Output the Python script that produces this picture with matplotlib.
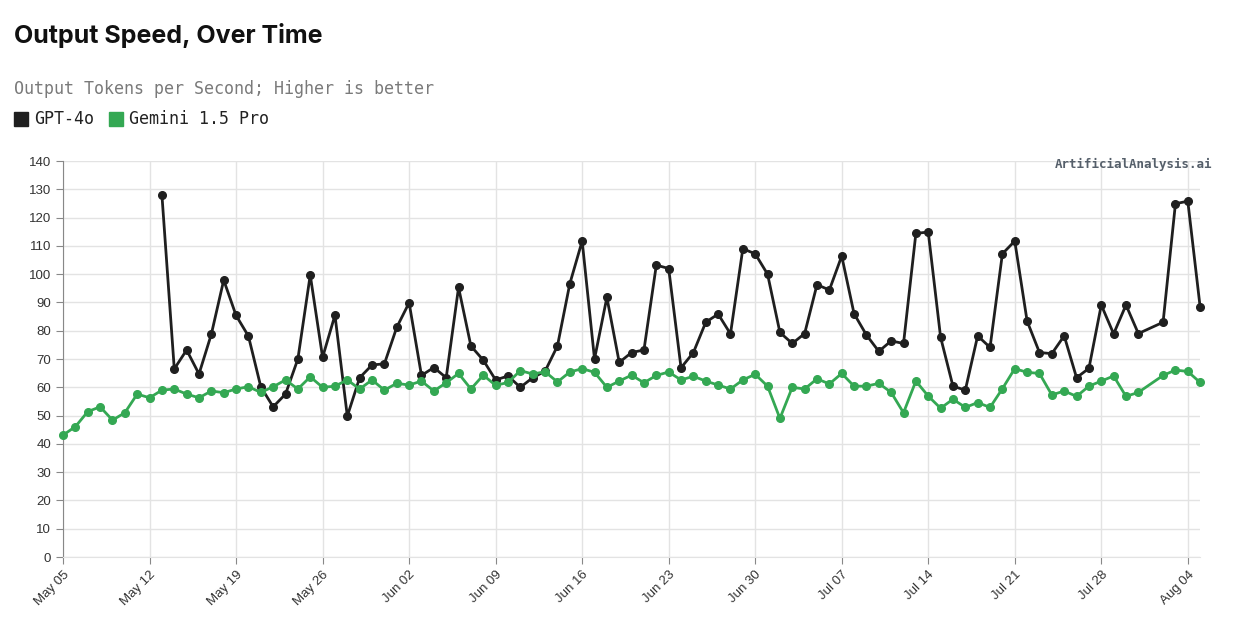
import matplotlib
matplotlib.use("Agg")
import matplotlib.pyplot as plt
import matplotlib.dates as mdates
from matplotlib.patches import Rectangle
import pandas as pd
import numpy as np

# daily values, Aug 01 missing in the source data
green_start, black_start = "2024-05-05", "2024-05-13"
skip_day = "2024-08-01"
end_day = "2024-08-05"

gemini = [43.1, 46.1, 51.4, 53.1, 48.4, 51.0, 57.6, 56.3, 59.0, 59.4, 57.6, 56.3, 58.7, 58.1,
          59.4, 60.2, 58.2, 60.2, 62.6, 59.4, 63.7, 60.0, 60.4, 62.6, 59.4, 62.6, 59.0,
          61.4, 60.8, 62.2, 58.7, 61.6, 64.9, 59.4, 64.3, 60.7, 61.7, 65.9, 64.7, 65.5, 61.9,
          65.4, 66.6, 65.3, 60.0, 62.2, 64.3, 61.6, 64.2, 65.4, 62.6, 63.9, 62.2, 60.8, 59.4,
          62.6, 64.6,
          60.4, 49.0, 60.0, 59.4, 63.0, 61.2, 64.9, 60.4, 60.4, 61.4, 58.2, 51.0, 62.2, 56.9,
          52.6, 55.8, 52.9, 54.6, 52.9, 59.5, 66.6, 65.3, 64.9, 57.3, 58.7, 56.8, 60.4, 62.2,
          64.0, 56.8, 58.2,
          64.2, 66.1, 65.6, 61.7]

gpt4o = [128.0, 66.5, 73.2, 64.7, 78.8, 97.9, 85.4, 78.1, 60.2, 53.1, 57.6, 70.0, 99.7, 70.6,
         85.5, 49.8, 63.4, 67.9, 68.3,
         81.2, 89.9, 64.2, 67.0, 63.4, 95.3, 74.6, 69.6, 62.6, 64.0, 60.0, 63.4, 65.7, 74.6,
         96.6, 111.7, 70.0, 91.8, 68.8, 72.3, 73.2, 103.2, 102.0, 66.9, 72.3, 83.0, 85.9, 78.9,
         109.0, 107.2,
         100.0, 79.4, 75.5, 79.0, 96.3, 94.4, 106.4, 86.0, 78.5, 72.7, 76.4, 75.5, 114.4, 114.9,
         77.7, 60.4, 59.0, 78.2, 74.1, 107.2, 111.7, 83.4, 72.3, 71.9, 78.2, 63.4, 66.7, 89.1,
         78.9, 89.1, 79.0,
         83.0, 124.9, 125.8, 88.3]

def days(start):
    d = pd.date_range(start, end_day, freq="D")
    return d[d != pd.Timestamp(skip_day)]

gemini_dates = days(green_start)
gpt_dates = days(black_start)

BLACK = "#1f1f1f"
GREEN = "#34a853"

fig = plt.figure(figsize=(12.36, 6.27), dpi=100)
ax = fig.add_axes([0.051, 0.1116, 0.920, 0.6316])

ax.plot(gpt_dates, gpt4o, color=BLACK, lw=2, marker="o", ms=5.5, zorder=3, clip_on=False)
ax.plot(gemini_dates, gemini, color=GREEN, lw=2, marker="o", ms=5.5, zorder=3, clip_on=False)

ax.set_ylim(0, 140)
ax.set_yticks(np.arange(0, 141, 10))
ax.set_xlim(pd.Timestamp("2024-05-05"), pd.Timestamp(end_day))
ax.xaxis.set_major_locator(mdates.WeekdayLocator(byweekday=mdates.SU))
ax.xaxis.set_major_formatter(mdates.DateFormatter("%b %d"))

ax.grid(True, color="#e3e3e3", lw=1)
ax.set_axisbelow(True)
for s in ["top", "right"]:
    ax.spines[s].set_visible(False)
ax.spines["left"].set_color("#888888")
ax.spines["bottom"].set_color("#e3e3e3")
ax.tick_params(axis="both", colors="#888888", labelcolor="#333333", length=5,
               labelsize=9.5)
for lab in ax.get_yticklabels() + ax.get_xticklabels():
    lab.set_fontfamily("Liberation Sans")
plt.setp(ax.get_xticklabels(), rotation=45, ha="right", rotation_mode="anchor")

fig.text(14 / 1236, 1 - 35 / 627, "Output Speed, Over Time", fontsize=18,
         fontweight="bold", family="Inter", va="center", color="#111111")
fig.text(14 / 1236, 1 - 89 / 627, "Output Tokens per Second; Higher is better",
         fontsize=12, family="DejaVu Sans Mono", va="center", color="#7a7a7a")

# legend
legend_items = [("GPT-4o", BLACK, 14), ("Gemini 1.5 Pro", GREEN, 109)]
for name, col, x0 in legend_items:
    fig.patches.append(Rectangle((x0 / 1236, 1 - 126 / 627), 14 / 1236, 14 / 627,
                                 transform=fig.transFigure, color=col))
    fig.text((x0 + 20) / 1236, 1 - 119 / 627, name, fontsize=12,
             family="DejaVu Sans Mono", va="center", color="#222222")

fig.text(1212 / 1236, 1 - 164 / 627, "ArtificialAnalysis.ai", fontsize=9,
         family="DejaVu Sans Mono", fontweight="bold", ha="right", va="center",
         color="#555f6a")

fig.savefig("out.png", dpi=100)
